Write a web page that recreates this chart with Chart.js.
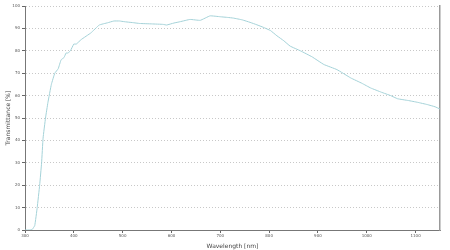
<!DOCTYPE html>
<html>
<head>
<meta charset="utf-8">
<script src="https://cdn.jsdelivr.net/npm/chart.js@4/dist/chart.umd.min.js"></script>
<style>
  html, body { margin: 0; padding: 0; background: #fff; }
  #wrap { width: 450px; height: 250px; }
</style>
</head>
<body>
<div id="wrap"><canvas id="chart"></canvas></div>
<script>
// Valores
const wavelengths = [300, 310, 315, 320, 325, 330, 334, 337, 342, 347, 354, 361, 368, 374, 380, 384, 388, 393, 400, 405, 415, 435, 452, 469, 482, 494, 503, 520, 535, 560, 583, 590, 605, 618, 638, 659, 679, 700, 715, 727, 745, 761, 775, 788, 803, 816, 830, 843, 864, 888, 912, 939, 967, 990, 1008, 1030, 1049, 1063, 1085, 1104, 1124, 1140, 1150];
const transmittance = [0, 0, 0.3, 2, 10, 20, 30, 41, 50, 57, 65, 70, 72, 76, 77, 79, 79, 80, 83, 83, 85, 88, 91.5, 92.5, 93.3, 93.3, 93, 92.6, 92.2, 92, 91.8, 91.5, 92.4, 93, 94, 93.6, 95.6, 95.2, 94.9, 94.6, 93.8, 92.7, 91.6, 90.5, 89, 86.7, 84.5, 82.1, 80, 77.3, 73.9, 71.6, 67.9, 65.5, 63.4, 61.5, 60, 58.6, 57.8, 57, 56, 55, 54];

const yTicks = [0, 10, 20, 30, 40, 50, 60, 70, 80, 90, 100];
const xTicks = [300, 400, 500, 600, 700, 800, 900, 1000, 1100];

const points = wavelengths.map((w, i) => ({ x: w, y: transmittance[i] }));

const ctx = document.getElementById("chart").getContext("2d");
new Chart(ctx, {
  type: "line",
  data: {
    datasets: [
      {
        data: points,
        borderColor: "#a4d2d8",
        borderWidth: 1,
        pointRadius: 0,
        tension: 0.1,
        fill: false,
      },
    ],
  },
  options: {
    responsive: true,
    maintainAspectRatio: false,
    animation: false,
    layout: { padding: { top: 6, right: 0, left: 5, bottom: 0 } },
    scales: {
      x: {
        type: "linear",
        min: 300,
        max: 1150,
        afterBuildTicks: (axis) => {
          axis.ticks = xTicks.map((v) => ({ value: v }));
        },
        afterFit: (axis) => { axis.height = 20; },
        ticks: {
          font: { family: "DejaVu Sans", size: 4 },
          color: "#555",
          padding: 1,
          maxRotation: 0,
          callback: (v) => String(v),
        },
        grid: {
          drawOnChartArea: false,
          tickLength: 3,
          tickColor: "#666",
        },
        border: { color: "#777", width: 1 },
        title: {
          display: true,
          text: "Wavelength [nm]",
          font: { family: "DejaVu Sans", size: 6 },
          color: "#444",
          padding: 0,
        },
      },
      y: {
        min: 0,
        max: 100,
        afterBuildTicks: (axis) => {
          axis.ticks = yTicks.map((v) => ({ value: v }));
        },
        afterFit: (axis) => { axis.width = 20; },
        ticks: {
          font: { family: "DejaVu Sans", size: 4 },
          color: "#555",
          padding: 2,
        },
        grid: {
          color: "#c8c8c8",
          tickLength: 3,
          tickColor: "#666",
          tickBorderDash: [],
        },
        border: { color: "#777", width: 1, dash: [1, 2] },
        title: {
          display: true,
          text: "Transmittance [%]",
          font: { family: "DejaVu Sans", size: 6 },
          color: "#444",
          padding: 0,
        },
      },
      y2: {
        position: "right",
        min: 0,
        max: 100,
        afterFit: (axis) => { axis.width = 10; },
        ticks: { display: false },
        grid: { drawOnChartArea: false, drawTicks: false },
        border: { color: "#999", width: 1.5 },
      },
    },
    plugins: {
      legend: { display: false },
      tooltip: { enabled: false },
    },
  },
});
</script>
</body>
</html>
